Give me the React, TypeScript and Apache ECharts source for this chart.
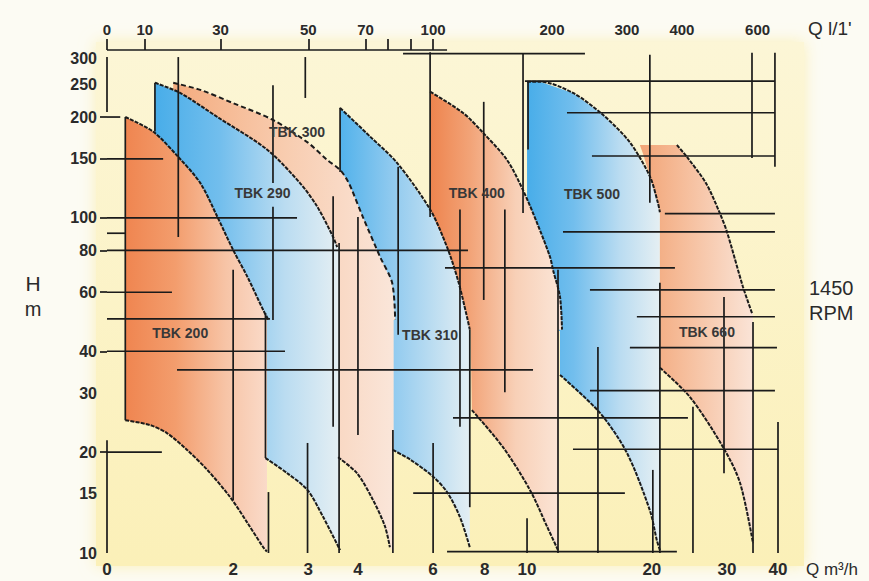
import React, { useEffect, useRef } from "react";
import * as echarts from "echarts";

// ---------- axes as printed ----------
const Q_TICKS = [0, 2, 3, 4, 6, 8, 10, 20, 30, 40]; // Q m3/h
// where each printed Q tick sits along the printed (irregular) Q axis, % of its length
const Q_TICK_AXIS_PCT = [0, 18.8, 30.0, 37.4, 48.6, 56.3, 62.6, 81.2, 92.4, 100];
const Q_LMIN_LABELS = [0, 10, 30, 50, 70, 100, 200, 300, 400, 600]; // Q l/min
const Q_LMIN_MARKS = [0, 10, 30, 50, 70, 80, 90, 100];
const LMIN_TO_M3H = 0.06;
const H_LABELS = [300, 250, 200, 150, 100, 80, 60, 40, 30, 20, 15, 10];
const H_MARKS = [200, 150, 100, 80, 60, 40, 20];
const H_MIN = 10;
const H_MAX = 317;

// ---------- pump curves [Q m3/h, H m] ----------
const TBK200_MAX = [[0.29, 200], [0.73, 181], [1.13, 152], [1.48, 127], [1.75, 100.7], [2.0, 80.2], [2.19, 66.7], [2.4, 53.1], [2.47, 49.6]];
const TBK200_MIN = [[0.29, 24.9], [0.68, 24.1], [0.95, 22.8], [1.27, 20.3], [1.59, 17.7], [1.95, 14.7], [2.19, 12.3], [2.4, 10.4], [2.45, 10.1]];
const TBK290_MAX = [[0.76, 253], [1.16, 236], [1.75, 200], [2.45, 160], [2.89, 127], [3.18, 108], [3.5, 87.7], [3.58, 81.8]];
const TBK290_MIN = [[2.43, 19.2], [2.72, 17.3], [2.99, 15.4], [3.3, 12.8], [3.64, 10.2]];
const TBK300_MAX = [[1.05, 253], [1.48, 241], [2.0, 220], [2.53, 196], [2.99, 168], [3.38, 149], [3.64, 139], [3.78, 130], [3.88, 121], [4.13, 100.7], [4.59, 76.5], [4.91, 64], [4.99, 49.6]];
const TBK300_MIN = [[3.6, 19.3], [3.98, 17.3], [4.4, 14.4], [4.72, 12.0], [4.85, 10.4]];
const TBK310_MAX = [[3.64, 213], [4.32, 175], [5.04, 146], [5.92, 106], [6.54, 81.8], [6.96, 65.3], [7.31, 50.7], [7.42, 46.4]];
const TBK310_MIN = [[4.93, 20.3], [5.39, 19.0], [6.0, 16.9], [6.54, 15.2], [7.04, 12.8], [7.42, 10.4]];
const TBK400_MAX = [[5.92, 238], [7.15, 206], [7.92, 180], [9.05, 149], [9.81, 121], [10.8, 96.6], [11.84, 76.5], [12.08, 70], [12.64, 58.1], [12.8, 46.4]];
const TBK400_MIN = [[7.5, 26.7], [8.86, 20.7], [10.24, 15.4], [11.6, 12.0], [12.48, 10.2]];
const TBK500_MAX = [[10, 255], [11.04, 255], [13.68, 236], [16.08, 203], [18.24, 168], [19.84, 133], [20.8, 111], [21.07, 104]];
const TBK500_MIN = [[12.64, 34], [15.84, 26.2], [18, 19.9], [19.84, 13.4], [20.67, 10.9], [21.07, 10.2]];
const TBK660_MAX = [[23.33, 165], [24.67, 152], [27.2, 127], [29.07, 103], [30, 90.8], [33.14, 62.2], [34.9, 52]];
const TBK660_MIN = [[21.07, 35.7], [25.07, 29.2], [29.47, 20.7], [32.55, 16.2], [35.1, 10.7]];

// right edge Q of each field, and the points closing its left side
const TBK200_EDGE = { rightQ: 2.45, back: [] as number[][] };
const TBK290_EDGE = { rightQ: 3.62, back: [[2.43, 52], [0.76, 52]] };
const TBK300_EDGE = { rightQ: 4.95, back: [[3.6, 81.8], [1.05, 81.8]] };
const TBK310_EDGE = { rightQ: 7.42, back: [[4.93, 49.6], [3.64, 49.6]] };
const TBK400_EDGE = { rightQ: 12.55, back: [[7.45, 46.4], [5.92, 46.4]] };
const TBK500_EDGE = { rightQ: 21.07, back: [[12.64, 46], [10, 46]] };
const TBK660_EDGE = { rightQ: 35.1, back: [[21.07, 104], [20.8, 111], [19.84, 133], [19.3, 155], [19.04, 165]] };

// model names and where they are written [Q, H]
const MODEL_NAMES = ["TBK 200", "TBK 290", "TBK 300", "TBK 310", "TBK 400", "TBK 500", "TBK 660"];
const MODEL_NAME_AT = [[1.16, 45.4], [2.39, 118.8], [2.85, 180.6], [5.92, 44.8], [7.69, 118.8], [15.2, 118], [27.33, 45.7]];

// chart grid lines: horizontal [H, Q from, Q to], vertical [Q, H from, H to]
const GRID_H = [
  [317, 0, 6.54], [309, 5.2, 14.64], [256, 9.9, 39.4], [206, 13.2, 39.4], [200, 0, 0.21],
  [153, 15.2, 39.4], [150, 0, 0.89], [103, 21.73, 39.4], [100, 0, 2.85], [90.8, 12.88, 39.4],
  [90, 0, 0.29], [80, 0, 7.35], [70.9, 6.46, 23.07], [61, 15.04, 39.4], [60, 0, 1.03],
  [50.7, 18.8, 39.4], [50, 0, 2.49], [41, 18.24, 39.8], [40, 0, 2.69], [35.2, 1.11, 10.48],
  [30.5, 15.04, 39.4], [25.3, 6.77, 24.8], [20.4, 13.68, 40], [20, 0, 0.87], [15.1, 5.47, 17.84],
  [10.1, 6.54, 23.33],
];
const GRID_V = [
  [0, 302, 207], [0, 21.7, 10], [0.29, 200, 24.9], [0.76, 253, 181], [1.13, 302, 87.7],
  [2.53, 249, 127], [2.53, 108, 49.6], [2.96, 302, 228], [2.0, 70, 14.4], [2.43, 52, 19.2],
  [2.47, 15.2, 10], [2.99, 21.3, 10], [3.5, 116, 23.8], [3.62, 84.1, 10], [4.0, 100.7, 22.5],
  [3.64, 213, 137], [5.07, 142, 44.8], [4.93, 23.3, 10], [5.92, 312, 100.7], [6.0, 21.3, 10],
  [7.04, 106, 23.8], [7.96, 222, 56.9], [8.95, 106, 30.2], [7.42, 46.4, 13.7], [10, 12.7, 10],
  [9.81, 309, 103.5], [10.08, 255, 160], [12.48, 70, 10], [15.68, 41.2, 10], [19.84, 307, 111],
  [20.13, 17.7, 10], [21.07, 64, 10], [25.47, 27.3, 10], [29.6, 58.1, 17.3], [35.1, 48.9, 10],
  [34.9, 311, 151], [39.4, 311, 142], [40, 24.6, 10],
];

// ---------- helpers ----------
function qPos(q: number): number {
  const t = Q_TICKS, p = Q_TICK_AXIS_PCT;
  let i = 0;
  while (i < t.length - 2 && q > t[i + 1]) i++;
  return p[i] + ((q - t[i]) * (p[i + 1] - p[i])) / (t[i + 1] - t[i]);
}

function outline(max: number[][], min: number[][], edge: { rightQ: number; back: number[][] }) {
  const last = max[max.length - 1];
  return [...max, [edge.rightQ, last[1]], [edge.rightQ, H_MIN], ...[...min].reverse(), ...edge.back];
}

const ORANGE_A = [[0, "#ef8550"], [0.35, "#f39d6d"], [0.7, "#f7c4a6"], [1, "#fadbca"]];
const ORANGE_B = [[0, "#f4ab7e"], [0.5, "#f8ccaf"], [1, "#fae6da"]];
const BLUE_A = [[0, "#48ade9"], [0.35, "#72beed"], [0.7, "#badcf1"], [1, "#e5eff3"]];

const FIELDS = [
  { poly: outline(TBK500_MAX, TBK500_MIN, TBK500_EDGE), stops: BLUE_A },
  { poly: outline(TBK660_MAX, TBK660_MIN, TBK660_EDGE), stops: [[0, "#f2a476"], [0.4, "#f6be9c"], [1, "#fae4d7"]] },
  { poly: outline(TBK400_MAX, TBK400_MIN, TBK400_EDGE), stops: [[0, "#ee844e"], [0.3, "#f2a377"], [0.65, "#f8d0b7"], [1, "#fbe6d8"]] },
  { poly: outline(TBK310_MAX, TBK310_MIN, TBK310_EDGE), stops: [[0, "#52b2eb"], [0.4, "#90caef"], [1, "#e3eef3"]] },
  { poly: outline(TBK300_MAX, TBK300_MIN, TBK300_EDGE), stops: ORANGE_B },
  { poly: outline(TBK290_MAX, TBK290_MIN, TBK290_EDGE), stops: BLUE_A },
  { poly: outline(TBK200_MAX, TBK200_MIN, TBK200_EDGE), stops: ORANGE_A },
];

const CURVES = [
  { d: TBK200_MAX }, { d: TBK200_MIN }, { d: TBK290_MAX }, { d: TBK290_MIN },
  { d: TBK300_MAX, dashed: true }, { d: TBK300_MIN }, { d: TBK310_MAX }, { d: TBK310_MIN },
  { d: TBK400_MAX }, { d: TBK400_MIN }, { d: TBK500_MAX }, { d: TBK500_MIN },
  { d: TBK660_MAX }, { d: TBK660_MIN },
];

const INK = "#1b1b1b";
const FONT = "'Liberation Sans', Arial, sans-serif";

function bigText(text: string, x: number, y: number, size: number, align: string) {
  return {
    type: "text",
    x,
    y,
    style: {
      text,
      fill: "#2a2a2a",
      fontSize: size,
      fontFamily: FONT,
      align,
      verticalAlign: "middle",
      textAlign: align,
      textVerticalAlign: "middle",
    },
  };
}

function buildOption(): any {
  const segs = [
    ...GRID_H.map(([h, q1, q2]) => [qPos(q1), h, qPos(q2), h]),
    ...GRID_V.map(([q, h1, h2]) => [qPos(q), h1, qPos(q), h2]),
  ];
  const lookup = (vals: number[], labels: number[]) => (v: number) => {
    const i = vals.findIndex((p) => Math.abs(p - v) < 0.01);
    return i >= 0 ? String(labels[i]) : "";
  };
  const bottomVals = Q_TICKS.map(qPos);
  const topVals = Q_LMIN_LABELS.map((l) => qPos(l * LMIN_TO_M3H));

  const series: any[] = [
    {
      type: "custom",
      coordinateSystem: "cartesian2d",
      silent: true,
      clip: false,
      z: 1,
      data: FIELDS.map((f) => [qPos(f.poly[0][0]), f.poly[0][1]]),
      renderItem: (params: any, api: any) => {
        const f = FIELDS[params.dataIndex];
        const pts = f.poly.map(([q, h]) => api.coord([qPos(q), h]));
        return {
          type: "polygon",
          shape: { points: pts },
          style: {
            fill: new echarts.graphic.LinearGradient(0, 0, 1, 0, f.stops.map(([o, c]) => ({ offset: o as number, color: c as string }))),
          },
        };
      },
    },
    {
      type: "custom",
      coordinateSystem: "cartesian2d",
      silent: true,
      clip: false,
      z: 4,
      data: segs,
      encode: { x: [0, 2], y: [1, 3] },
      renderItem: (params: any, api: any) => {
        const a = api.coord([api.value(0), api.value(1)]);
        const b = api.coord([api.value(2), api.value(3)]);
        return { type: "line", shape: { x1: a[0], y1: a[1], x2: b[0], y2: b[1] }, style: { stroke: INK, lineWidth: 1.7 } };
      },
    },
    ...CURVES.map((c) => ({
      type: "line",
      silent: true,
      z: 5,
      showSymbol: false,
      smooth: 0.3,
      data: c.d.map(([q, h]) => [qPos(q), h]),
      lineStyle: { color: INK, width: 2, type: c.dashed ? [5, 3] : [4, 1.2] },
    })),
    {
      type: "custom",
      coordinateSystem: "cartesian2d",
      silent: true,
      clip: false,
      z: 6,
      data: MODEL_NAME_AT.map(([q, h]) => [qPos(q), h]),
      renderItem: (params: any, api: any) => {
        const c = api.coord([api.value(0), api.value(1)]);
        return {
          type: "text",
          x: c[0],
          y: c[1],
          style: {
            text: MODEL_NAMES[params.dataIndex],
            fill: "#383838",
            fontSize: 14,
            fontWeight: "bold",
            fontFamily: FONT,
            align: "center",
            verticalAlign: "middle",
          },
        };
      },
    },
  ];

  const label = (size: number) => ({ color: "#2a2a2a", fontSize: size, fontWeight: "bold", fontFamily: FONT });

  return {
    animation: false,
    backgroundColor: "#fcfbf3",
    grid: { left: 107, right: 91, top: 50, bottom: 28, containLabel: false, outerBoundsMode: "none" },
    xAxis: [
      {
        type: "value",
        min: 0,
        max: 100,
        position: "bottom",
        axisLine: { show: false },
        axisTick: { show: false },
        splitLine: { show: false },
        axisLabel: {
          ...label(17),
          customValues: bottomVals,
          formatter: lookup(bottomVals, Q_TICKS),
          margin: 8,
          showMinLabel: true,
          showMaxLabel: true,
          hideOverlap: false,
        },
      },
      {
        type: "value",
        min: 0,
        max: 100,
        position: "top",
        axisLine: { show: false },
        splitLine: { show: false },
        axisTick: {
          show: true,
          customValues: Q_LMIN_MARKS.map((l) => qPos(l * LMIN_TO_M3H)),
          length: 11,
          lineStyle: { color: INK, width: 1.7 },
        },
        axisLabel: {
          ...label(15),
          customValues: topVals,
          formatter: lookup(topVals, Q_LMIN_LABELS),
          margin: 13,
          showMinLabel: true,
          showMaxLabel: true,
          hideOverlap: false,
        },
      },
    ],
    yAxis: {
      type: "log",
      logBase: 10,
      min: H_MIN,
      max: H_MAX,
      axisLine: { show: false },
      splitLine: { show: false },
      minorTick: { show: false },
      axisTick: { show: true, customValues: H_MARKS, length: 7, lineStyle: { color: INK, width: 1.7 } },
      axisLabel: { ...label(16), customValues: H_LABELS, margin: 10, showMinLabel: true, showMaxLabel: true, hideOverlap: false },
    },
    graphic: [
      {
        type: "rect",
        z: -10,
        silent: true,
        shape: { x: 96, y: 42, width: 708, height: 524 },
        style: {
          fill: new echarts.graphic.LinearGradient(0, 0, 0, 1, [
            { offset: 0, color: "#fcf6d6" },
            { offset: 1, color: "#fbf0b8" },
          ]),
          shadowBlur: 16,
          shadowColor: "rgba(250,238,175,0.9)",
        },
      },
      bigText("H", 33, 283, 21, "center"),
      bigText("m", 33, 309, 20, "center"),
      bigText("1450", 809, 288, 20, "left"),
      bigText("RPM", 809, 313, 20, "left"),
      bigText("Q l/1'", 808, 28, 19, "left"),
      bigText("Q m³/h", 806, 569, 17, "left"),
    ],
    series,
  };
}

export default function App() {
  const ref = useRef<HTMLDivElement>(null);
  useEffect(() => {
    const chart = echarts.init(ref.current as HTMLDivElement, null, { renderer: "svg" });
    chart.setOption(buildOption());
    return () => chart.dispose();
  }, []);
  return <div ref={ref} style={{ position: "fixed", left: 0, top: 0, width: 869, height: 581 }} />;
}
